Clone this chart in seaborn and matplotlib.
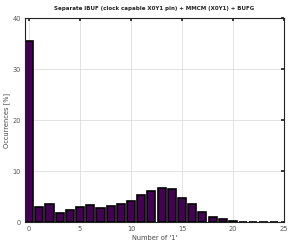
import matplotlib
matplotlib.use("Agg")
import matplotlib.pyplot as plt
import seaborn as sns
import pandas as pd

ones = list(range(25))
occurrences = [35.5, 2.9, 3.5, 1.7, 2.4, 3.0, 3.3, 2.8, 3.1, 3.5, 4.2, 5.4, 6.1,
               6.7, 6.4, 4.8, 3.5, 1.9, 1.0, 0.5, 0.25, 0.08, 0.0, 0.0, 0.0]
title = "Separate IBUF (clock capable X0Y1 pin) + MMCM (X0Y1) + BUFG"
xlabel = "Number of '1'"
ylabel = "Occurrences [%]"

df = pd.DataFrame({"ones": ones, "occ": occurrences})

sns.set_theme(style="whitegrid")
plt.rcParams['font.family'] = ['DejaVu Sans']
fig = plt.figure(figsize=(2.89, 2.44), dpi=100)
ax = fig.add_axes([0.0865, 0.09, 0.896, 0.836])

sns.barplot(data=df, x="ones", y="occ", ax=ax, native_scale=True,
            color="#440154", saturation=1, edgecolor="black", linewidth=1.2, width=0.8)

ax.set_xlim(-0.4, 25)
ax.set_ylim(0, 40)
ax.set_xticks([0, 5, 10, 15, 20, 25])
ax.set_yticks([0, 10, 20, 30, 40])
ax.tick_params(labelsize=4.8, colors="#555555", length=2, direction="in", top=True, right=True, pad=3)
ax.tick_params(axis="both", which="both", color="#222222")
ax.grid(True, color="#dddddd", linewidth=0.6)
for s in ax.spines.values():
    s.set_color("#222222")
    s.set_linewidth(0.8)
ax.set_xlabel(xlabel, fontsize=4.8, color="#444444", labelpad=2)
ax.set_ylabel(ylabel, fontsize=4.8, color="#444444", labelpad=2)
ax.set_title(title, fontsize=3.95, fontweight="bold", color="#222222", pad=6)

fig.savefig("out.png", dpi=100)
